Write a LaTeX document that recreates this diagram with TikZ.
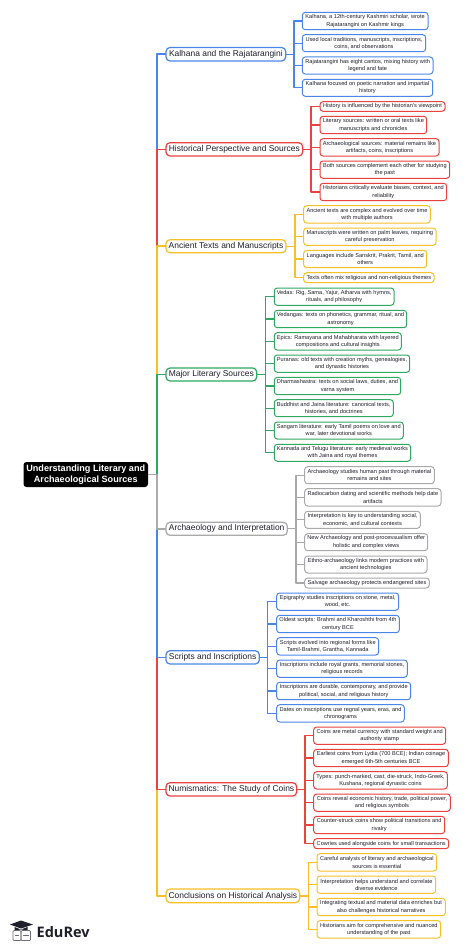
\documentclass[tikz,border=0pt]{standalone}
\usepackage{fontspec}
\setmainfont{Liberation Sans}
\newfontfamily\logofont{Open Sans}
\definecolor{cblue}{HTML}{4A86E8}
\definecolor{cred}{HTML}{E8433F}
\definecolor{cyel}{HTML}{F6C026}
\definecolor{cgrn}{HTML}{2FA861}
\definecolor{cgry}{HTML}{A9A9A9}
\definecolor{ctxt}{HTML}{1F1F2B}
\tikzset{
  base/.style={rounded corners=3pt,fill=white,outer sep=0pt,inner sep=0pt,align=center,text=ctxt},
  lvlone/.style={base,draw=#1,line width=1.25pt,rounded corners=4pt,font=\fontsize{8.45}{10}\selectfont},
  lvltwo/.style={base,draw=#1,line width=1pt,font=\fontsize{5.62}{7.33}\selectfont},
  rootbox/.style={rounded corners=3pt,fill=black,outer sep=0pt,inner sep=0pt,align=center,text=white,font=\fontsize{9.1}{11.3}\selectfont\bfseries},
  trunk/.style={draw=#1,line width=1.6pt,line join=round},
  bus/.style={draw=#1,line width=1.3pt,line join=round},
}
\newcommand{\place}[7]{%
  \pgfmathsetmacro\pcx{(#3+#5)/2}%
  \pgfmathsetmacro\pcy{(#4+#6)/2}%
  \pgfmathsetmacro\pw{#5-#3}%
  \pgfmathsetmacro\ph{#6-#4}%
  \node[#1,minimum width=\pw pt,minimum height=\ph pt] (#2) at (\pcx,\pcy) {#7};}
\begin{document}
\begin{tikzpicture}[x=1pt,y=-1pt]
\useasboundingbox (0,0) rectangle (474,950);
\fill[white] (0,0) rectangle (474,950);
% root and first level
\place{rootbox}{root}{23.5}{462}{148}{487}{Understanding Literary and\\Archaeological Sources}
\place{lvlone=cblue}{ka}{166}{47.5}{285.7}{61}{Kalhana and the Rajatarangini}
\place{lvlone=cred}{hi}{166}{142.7}{302.7}{156}{Historical Perspective and Sources}
\place{lvlone=cyel}{an}{166}{239.7}{286}{252.7}{Ancient Texts and Manuscripts}
\place{lvlone=cgrn}{ma}{166}{368}{256.7}{381}{Major Literary Sources}
\place{lvlone=cgry}{ar}{166}{522.3}{287.3}{535.3}{Archaeology and Interpretation}
\place{lvlone=cblue}{sc}{166}{650.7}{259.3}{664}{Scripts and Inscriptions}
\place{lvlone=cred}{nu}{166}{782.7}{296.7}{796}{Numismatics: The Study of Coins}
\place{lvlone=cyel}{co}{166}{889}{299.7}{902.7}{Conclusions on Historical Analysis}
% Kalhana
\place{lvltwo=cblue}{ka1}{302.3}{12.3}{428}{29.7}{Kalhana, a 12th-century Kashmiri scholar, wrote\\Rajatarangini on Kashmir kings}
\place{lvltwo=cblue}{ka2}{302.3}{34.7}{425.7}{51.7}{Used local traditions, manuscripts, inscriptions,\\coins, and observations}
\place{lvltwo=cblue}{ka3}{302.3}{57}{433}{74}{Rajatarangini has eight cantos, mixing history with\\legend and fate}
\place{lvltwo=cblue}{ka4}{302.3}{79.3}{432.7}{96.3}{Kalhana focused on poetic narration and impartial\\history}
% Historical
\place{lvltwo=cred}{hi1}{320}{101.7}{445}{111.3}{History is influenced by the historian's viewpoint}
\place{lvltwo=cred}{hi2}{320}{116.3}{426.7}{133.7}{Literary sources: written or oral texts like\\manuscripts and chronicles}
\place{lvltwo=cred}{hi3}{320}{138.7}{439}{156}{Archaeological sources: material remains like\\artifacts, coins, inscriptions}
\place{lvltwo=cred}{hi4}{320}{161}{449.7}{178.3}{Both sources complement each other for studying\\the past}
\place{lvltwo=cred}{hi5}{320}{183.3}{446.7}{200.7}{Historians critically evaluate biases, context, and\\reliability}
% Ancient
\place{lvltwo=cyel}{an1}{303.7}{205.7}{430.3}{223}{Ancient texts are complex and evolved over time\\with multiple authors}
\place{lvltwo=cyel}{an2}{303.7}{228}{436}{245.3}{Manuscripts were written on palm leaves, requiring\\careful preservation}
\place{lvltwo=cyel}{an3}{303.7}{250.3}{426.7}{267.7}{Languages include Sanskrit, Prakrit, Tamil, and\\others}
\place{lvltwo=cyel}{an4}{303.7}{272.7}{434}{282.7}{Texts often mix religious and non-religious themes}
% Major
\place{lvltwo=cgrn}{ma1}{274.3}{288}{394}{305.3}{Vedas: Rig, Sama, Yajur, Atharva with hymns,\\rituals, and philosophy}
\place{lvltwo=cgrn}{ma2}{274.3}{310.3}{406.7}{327.7}{Vedangas: texts on phonetics, grammar, ritual, and\\astronomy}
\place{lvltwo=cgrn}{ma3}{274.3}{332.7}{401.3}{350}{Epics: Ramayana and Mahabharata with layered\\compositions and cultural insights}
\place{lvltwo=cgrn}{ma4}{274.3}{355}{409.7}{372.3}{Puranas: old texts with creation myths, genealogies,\\and dynastic histories}
\place{lvltwo=cgrn}{ma5}{274.3}{377.3}{400.7}{394.7}{Dharmashastra: texts on social laws, duties, and\\varna system}
\place{lvltwo=cgrn}{ma6}{274.3}{399.7}{393.3}{416.7}{Buddhist and Jaina literature: canonical texts,\\histories, and doctrines}
\place{lvltwo=cgrn}{ma7}{274.3}{422}{403.3}{439}{Sangam literature: early Tamil poems on love and\\war, later devotional works}
\place{lvltwo=cgrn}{ma8}{274.3}{444.3}{410.7}{461.3}{Kannada and Telugu literature: early medieval works\\with Jaina and royal themes}
% Archaeology
\place{lvltwo=cgry}{ar1}{304.7}{466.7}{434.3}{483.7}{Archaeology studies human past through material\\remains and sites}
\place{lvltwo=cgry}{ar2}{304.7}{488.7}{441}{506}{Radiocarbon dating and scientific methods help date\\artifacts}
\place{lvltwo=cgry}{ar3}{304.7}{511.3}{420.3}{528.3}{Interpretation is key to understanding social,\\economic, and cultural contexts}
\place{lvltwo=cgry}{ar4}{304.7}{533.7}{427.7}{550.7}{New Archaeology and post-processualism offer\\holistic and complex views}
\place{lvltwo=cgry}{ar5}{304.7}{556}{427}{573}{Ethno-archaeology links modern practices with\\ancient technologies}
\place{lvltwo=cgry}{ar6}{304.7}{578}{429.3}{588}{Salvage archaeology protects endangered sites}
% Scripts
\place{lvltwo=cblue}{sc1}{276.7}{593}{398.7}{610.3}{Epigraphy studies inscriptions on stone, metal,\\wood, etc.}
\place{lvltwo=cblue}{sc2}{276.7}{615.3}{399.3}{632.7}{Oldest scripts: Brahmi and Kharoshthi from 4th\\century BCE}
\place{lvltwo=cblue}{sc3}{276.7}{637.7}{378.7}{655}{Scripts evolved into regional forms like\\Tamil-Brahmi, Grantha, Kannada}
\place{lvltwo=cblue}{sc4}{276.7}{660}{407.3}{677.3}{Inscriptions include royal grants, memorial stones,\\religious records}
\place{lvltwo=cblue}{sc5}{276.7}{682.3}{410.7}{699.7}{Inscriptions are durable, contemporary, and provide\\political, social, and religious history}
\place{lvltwo=cblue}{sc6}{276.7}{704.7}{404.3}{722}{Dates on inscriptions use regnal years, eras, and\\chronograms}
% Numismatics
\place{lvltwo=cred}{nu1}{313.7}{727}{445.7}{744.3}{Coins are metal currency with standard weight and\\authority stamp}
\place{lvltwo=cred}{nu2}{313.7}{749.3}{448.3}{766.7}{Earliest coins from Lydia (700 BCE); Indian coinage\\emerged 6th-5th centuries BCE}
\place{lvltwo=cred}{nu3}{313.7}{771.7}{447.3}{789}{Types: punch-marked, cast, die-struck, Indo-Greek,\\Kushana, regional dynastic coins}
\place{lvltwo=cred}{nu4}{313.7}{794}{450.3}{811.3}{Coins reveal economic history, trade, political power,\\and religious symbols}
\place{lvltwo=cred}{nu5}{313.7}{816.3}{444.7}{833.7}{Counter-struck coins show political transitions and\\rivalry}
\place{lvltwo=cred}{nu6}{313.7}{838.7}{448.7}{848.7}{Cowries used alongside coins for small transactions}
% Conclusions
\place{lvltwo=cyel}{co1}{317}{853.7}{436.7}{871}{Careful analysis of literary and archaeological\\sources is essential}
\place{lvltwo=cyel}{co2}{317}{876}{435.7}{893.3}{Interpretation helps understand and correlate\\diverse evidence}
\place{lvltwo=cyel}{co3}{317}{898.3}{445.3}{915.7}{Integrating textual and material data enriches but\\also challenges historical narratives}
\place{lvltwo=cyel}{co4}{317}{920.7}{440.7}{938}{Historians aim for comprehensive and nuanced\\understanding of the past}
% connectors from the root (outermost first: nearer ones lie on top)
\coordinate (rt) at (157,474.5);
\draw[trunk=cblue] (root.east) -- (rt) |- (ka.west);
\draw[trunk=cred] (root.east) -- (rt) |- (hi.west);
\draw[trunk=cyel] (root.east) -- (rt) |- (an.west);
\draw[trunk=cgrn] (root.east) -- (rt) |- (ma.west);
\draw[trunk=cyel] (root.east) -- (rt) |- (co.west);
\draw[trunk=cred] (root.east) -- (rt) |- (nu.west);
\draw[trunk=cblue] (root.east) -- (rt) |- (sc.west);
\draw[trunk=cgry] (root.east) -- (rt) |- (ar.west);
% connectors from the first level
\foreach \p/\bx/\c/\kids in {
  ka/294/cblue/{ka1,ka2,ka3,ka4},
  hi/311/cred/{hi1,hi2,hi3,hi4,hi5},
  an/295/cyel/{an1,an2,an3,an4},
  ma/265.3/cgrn/{ma1,ma2,ma3,ma4,ma5,ma6,ma7,ma8},
  ar/296/cgry/{ar1,ar2,ar3,ar4,ar5,ar6},
  sc/267.7/cblue/{sc1,sc2,sc3,sc4,sc5,sc6},
  nu/305/cred/{nu1,nu2,nu3,nu4,nu5,nu6},
  co/308.3/cyel/{co1,co2,co3,co4}}{
  \coordinate (\p bus) at (\bx,0);
  \foreach \k in \kids {
    \draw[bus=\c] (\p.east) -- (\p.east -| \p bus) |- (\k.west);
  }
}
% logo
\node[anchor=west,inner sep=0pt,font=\logofont\fontsize{14.5}{16}\selectfont\bfseries,text=ctxt] (logo) at (36.5,932) {EduRev};
\fill[ctxt] (21,920.5) -- (33,924.5) -- (21,928.5) -- (10,924.5) -- cycle;
\fill[ctxt] (14.5,927) -- (14.5,931) .. controls (18,929) and (24,929) .. (27.5,931) -- (27.5,927) -- (21,929.5) -- cycle;
\draw[ctxt!65,line width=0.7pt,rounded corners=1pt] (13,930.5) rectangle (21,940.5);
\draw[ctxt!65,line width=0.7pt,rounded corners=1pt] (21,930.5) rectangle (30.5,940.5);
\draw[ctxt!65,line width=0.5pt] (15,935) -- (19,935) (23,935) -- (28.5,935);
\end{tikzpicture}
\end{document}
